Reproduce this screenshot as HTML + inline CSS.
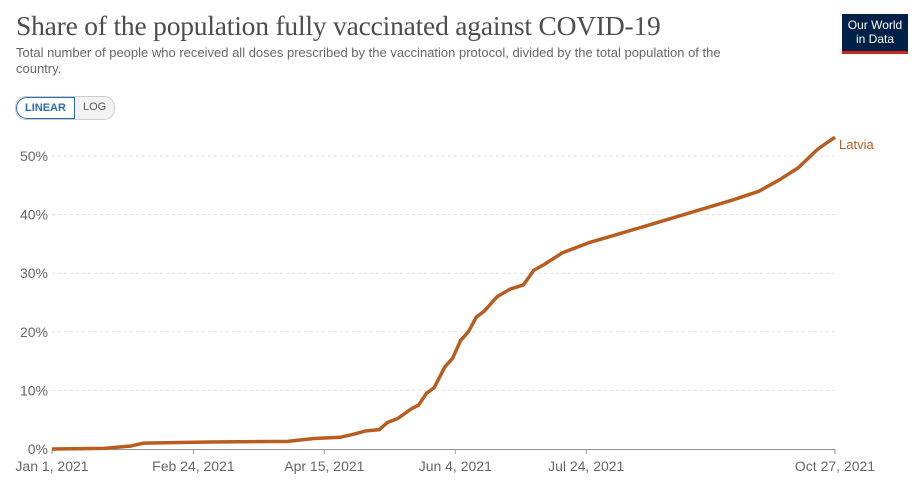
<!DOCTYPE html>
<html><head><meta charset="utf-8"><style>
body{margin:0;background:#fff;width:923px;height:480px;overflow:hidden;font-family:"Liberation Sans",sans-serif;}
#title{position:absolute;left:16px;top:10px;font-family:"Liberation Serif",serif;font-size:27.5px;color:#4d4d4d;letter-spacing:-0.2px;}
#sub{position:absolute;left:16px;top:45px;width:725px;font-size:13px;line-height:16px;color:#666;}
#logo{position:absolute;left:842px;top:14px;width:66px;height:40px;background:#002147;color:#fff;font-size:12px;line-height:14px;text-align:center;padding-top:4px;box-sizing:border-box;border-bottom:3px solid #ce261e;}
#toggle{position:absolute;left:15px;top:96px;height:22px;border:1px solid #ccc;border-radius:11px;display:flex;font-size:11px;overflow:hidden;}
#toggle div{padding:4px 8px 4px 8px;}
</style></head><body>
<div id="title">Share of the population fully vaccinated against COVID-19</div>
<div id="sub">Total number of people who received all doses prescribed by the vaccination protocol, divided by the total population of the country.</div>
<div id="logo">Our World<br>in Data</div>
<div id="toggle">
<div style="color:#2a6cb3;border:1px solid #2a6cb3;border-radius:11px 0 0 11px;font-weight:bold">LINEAR</div>
<div style="color:#555;background:#f2f2f2">LOG</div>
</div>
<svg id="chart" width="923" height="480" style="position:absolute;left:0;top:0"></svg>
<script>
const days=[0,20,30,35,60,90,100,110,115,120,125,128,132,137,140,143,146,150,153,156,159,162,165,170,175,180,184,188,195,205,215,230,245,260,270,278,285,292,296,299];
const values=[0,0.1,0.5,1.0,1.2,1.3,1.8,2.0,2.5,3.1,3.3,4.5,5.2,6.8,7.5,9.5,10.5,14,15.5,18.5,20,22.5,23.5,26,27.3,28,30.5,31.5,33.5,35.2,36.5,38.5,40.5,42.5,44,46,48,51,52.3,53.2];
const yTicks=[0,10,20,30,40,50];
const xTickDays=[0,54,104,154,204,299];
const xTickLabels=["Jan 1, 2021","Feb 24, 2021","Apr 15, 2021","Jun 4, 2021","Jul 24, 2021","Oct 27, 2021"];
const NS="http://www.w3.org/2000/svg",svg=document.getElementById('chart');
const X=d=>52+d*783/299, Y=v=>449-v*5.86;
function mk(t,a,txt){const e=document.createElementNS(NS,t);for(const k in a)e.setAttribute(k,a[k]);if(txt!=null)e.textContent=txt;svg.appendChild(e);return e;}
yTicks.forEach(v=>{
 if(v>0){const l=mk('line',{x1:52,x2:835,y1:Y(v),y2:Y(v),stroke:'#ddd','stroke-dasharray':'3,3'});
 }
 const t=mk('text',{x:48,y:Y(v)+5,'text-anchor':'end','font-size':14,fill:'#666','font-family':'Liberation Sans'},v+'%');
 
});
const ax=mk('line',{x1:52,x2:835,y1:449.5,y2:449.5,stroke:'#999'});

xTickDays.forEach((d,i)=>{
 const tk=mk('line',{x1:X(d),x2:X(d),y1:449,y2:454,stroke:'#999'});
 
 const t=mk('text',{x:X(d),y:471,'text-anchor':'middle','font-size':14,fill:'#666','font-family':'Liberation Sans'},xTickLabels[i]);
 
});
const p=mk('polyline',{points:days.map((d,i)=>X(d)+','+Y(values[i])).join(' '),fill:'none',stroke:'#b85c1f','stroke-width':3.5,'stroke-linejoin':'round'});

const lb=mk('text',{x:839,y:Y(values[values.length-1])+12,'font-size':13,fill:'#b85c1f','font-family':'Liberation Sans'},'Latvia');

</script>
</body></html>
